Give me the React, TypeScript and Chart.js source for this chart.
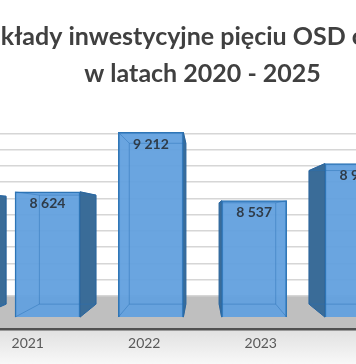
import React, { useEffect, useRef } from 'react';
import { Chart, registerables } from 'chart.js';

Chart.register(...registerables);

// ---- data ----
const categories = ['2020', '2021', '2022', '2023', '2024', '2025'];
const values = [8611, 8624, 9212, 8537, 8903, 9450];
const titleLines = ['Nakłady inwestycyjne pięciu OSD ogółem', 'w latach 2020 - 2025'];
const barBase = 7388;
const gridLevels = [0, 1, 2, 3, 4, 5, 6, 7, 8, 9, 10];

const fmt = (v: number) => String(Math.round(v)).replace(/\B(?=(\d{3})+(?!\d))/g, ' ');

const K = 0.13; // perspective depth factor

function boxes(chart: any) {
  const meta = chart.getDatasetMeta(0);
  const ca = chart.chartArea;
  const vx = (ca.left + ca.right) / 2;
  const vy = ca.bottom - 112;
  return meta.data.map((el: any) => {
    const p = el.getProps(['x', 'y', 'base', 'width'], true);
    const L = p.x - p.width / 2;
    const R = p.x + p.width / 2;
    const T = p.y;
    const B = p.base;
    const bx = (x: number) => x + (vx - x) * K;
    const by = (y: number) => y + (vy - y) * K;
    return { x: p.x, L, R, T, B, L2: bx(L), R2: bx(R), T2: by(T), B2: by(B), left: p.x < vx };
  });
}

const bgPlugin = {
  id: 'bg3d',
  beforeDraw(chart: any) {
    const { ctx, width, height, chartArea: ca, scales } = chart;
    ctx.save();
    ctx.fillStyle = '#ffffff';
    ctx.fillRect(0, 0, width, height);
    const g = ctx.createLinearGradient(0, ca.bottom, 0, height);
    g.addColorStop(0, '#e0e0e0');
    g.addColorStop(1, '#f8f8f8');
    ctx.fillStyle = g;
    ctx.fillRect(0, ca.bottom, width, height - ca.bottom);
    const floorTop = scales.y2.getPixelForValue(0);
    ctx.fillStyle = '#bfbfbf';
    ctx.fillRect(ca.left, floorTop, ca.right - ca.left, ca.bottom - floorTop);
    ctx.restore();
  },
  beforeDatasetsDraw(chart: any) {
    const { ctx } = chart;
    ctx.save();
    boxes(chart).forEach((b: any) => {
      ctx.beginPath();
      if (b.left) {
        ctx.moveTo(b.R, b.T);
        ctx.lineTo(b.R2, b.T2);
        ctx.lineTo(b.R2, b.B2);
        ctx.lineTo(b.R, b.B);
      } else {
        ctx.moveTo(b.L, b.T);
        ctx.lineTo(b.L2, b.T2);
        ctx.lineTo(b.L2, b.B2);
        ctx.lineTo(b.L, b.B);
      }
      ctx.closePath();
      ctx.fillStyle = '#3a6c98';
      ctx.fill();
      ctx.strokeStyle = '#2b5f8f';
      ctx.lineWidth = 1;
      ctx.stroke();
    });
    ctx.restore();
  },
  afterDatasetsDraw(chart: any) {
    const { ctx } = chart;
    ctx.save();
    boxes(chart).forEach((b: any, i: number) => {
      ctx.strokeStyle = 'rgba(40,110,180,0.45)';
      ctx.lineWidth = 1;
      ctx.beginPath();
      ctx.rect(b.L2, b.T2, b.R2 - b.L2, b.B2 - b.T2);
      ctx.moveTo(b.L, b.T); ctx.lineTo(b.L2, b.T2);
      ctx.moveTo(b.R, b.T); ctx.lineTo(b.R2, b.T2);
      ctx.moveTo(b.L, b.B); ctx.lineTo(b.L2, b.B2);
      ctx.moveTo(b.R, b.B); ctx.lineTo(b.R2, b.B2);
      ctx.stroke();
      ctx.fillStyle = '#2f3b48';
      ctx.font = 'bold 14px Lato';
      ctx.textAlign = 'center';
      ctx.textBaseline = 'middle';
      ctx.fillText(fmt(values[i]), b.x, b.T + 12);
    });
    ctx.restore();
  },
};

export default function App() {
  const ref = useRef<HTMLCanvasElement | null>(null);
  useEffect(() => {
    if (!ref.current) return;
    const chart = new Chart(ref.current, {
      type: 'bar',
      data: {
        labels: categories,
        datasets: [
          {
            data: values.map((v, i) => ({ x: i, y: v })) as any,
            xAxisID: 'xb',
            yAxisID: 'y',
            base: barBase,
            barThickness: 65,
            backgroundColor: 'rgba(98,160,222,0.95)',
            borderColor: '#2e75b6',
            borderWidth: 1.5,
          } as any,
        ],
      },
      options: {
        responsive: false,
        devicePixelRatio: 1,
        animation: false,
        layout: { padding: { top: 0, bottom: 6, left: 0, right: 0 } },
        plugins: {
          legend: { display: false },
          tooltip: { enabled: false },
          title: {
            display: true,
            text: titleLines,
            color: '#404040',
            font: { family: 'Lato', size: 25, weight: 'bold', lineHeight: 37 / 25 },
            padding: { top: 18.5, bottom: 17.5 },
          },
        },
        scales: {
          x: {
            type: 'category',
            position: 'bottom',
            offset: true,
            grid: { display: false, drawTicks: false },
            border: { display: true, color: '#505050', width: 2.5 },
            ticks: { color: '#595959', font: { family: 'Lato', size: 14 }, padding: 6, maxRotation: 0, autoSkip: false },
          },
          xb: { type: 'linear', display: false, offset: false, grid: { offset: false }, min: -0.883, max: 5.883 },
          y: { type: 'linear', display: false, min: 7268.6, max: 9431.3 },
          y2: {
            type: 'linear',
            position: 'left',
            min: -2.05,
            max: 11.43,
            ticks: { display: false, stepSize: 1 },
            border: { display: false },
            grid: {
              drawTicks: false,
              lineWidth: 1.5,
              color: (c: any) => {
                const v = c.tick && c.tick.value;
                return gridLevels.includes(v) ? '#d6d6d6' : 'rgba(0,0,0,0)';
              },
            },
          },
        },
      } as any,
      plugins: [bgPlugin],
    });
    return () => chart.destroy();
  }, []);
  return (
    <div style={{ position: 'fixed', left: 0, top: 0, width: 356, height: 364, overflow: 'hidden', background: '#fff' }}>
      <canvas ref={ref} width={699} height={364} style={{ position: 'absolute', left: -147, top: 0, width: 699, height: 364 }} />
    </div>
  );
}
